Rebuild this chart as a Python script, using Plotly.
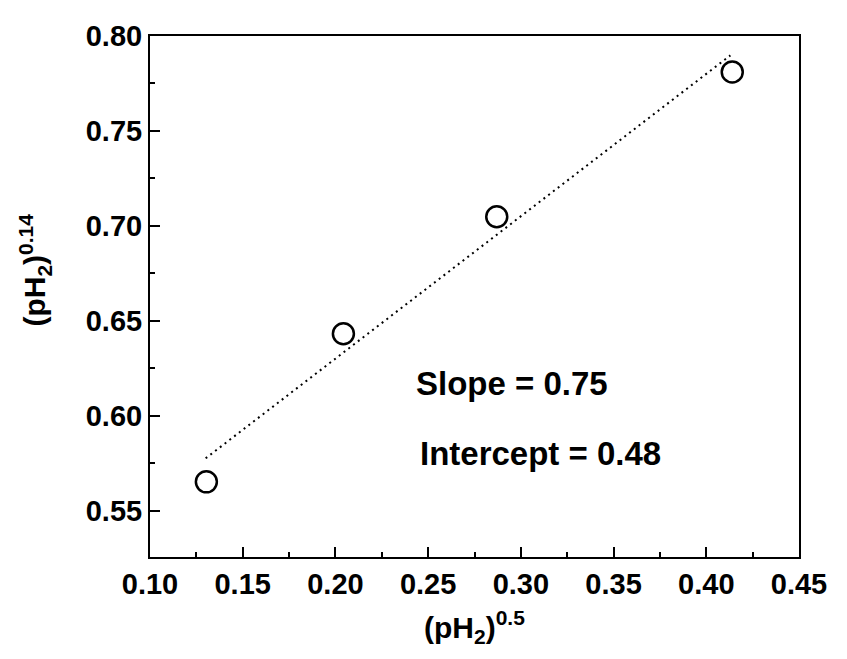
import plotly.graph_objects as go

# Data
x_vals = [0.1304, 0.2043, 0.2870, 0.4140]
y_vals = [0.5651, 0.6431, 0.7048, 0.7810]

fit_x = [0.130, 0.413]
fit_y = [0.5775, 0.7898]

x_ticks = [0.10, 0.15, 0.20, 0.25, 0.30, 0.35, 0.40, 0.45]
y_ticks = [0.55, 0.60, 0.65, 0.70, 0.75, 0.80]

FONT = "Liberation Sans, Arial, sans-serif"

fig = go.Figure()
fig.add_trace(go.Scatter(
    x=fit_x, y=fit_y, mode="lines",
    line=dict(color="black", width=2, dash="2px,4px"),
    showlegend=False, hoverinfo="skip"))
fig.add_trace(go.Scatter(
    x=x_vals, y=y_vals, mode="markers",
    marker=dict(symbol="circle-open", size=21, color="black",
                line=dict(color="black", width=2.5)),
    showlegend=False))

fig.add_annotation(x=0.2951, y=0.6170, xref="x", yref="y",
                   xanchor="center", yanchor="middle",
                   text="<b>Slope = 0.75</b>", showarrow=False,
                   font=dict(family=FONT, size=33, color="black"))
fig.add_annotation(x=0.3105, y=0.5799, xref="x", yref="y",
                   xanchor="center", yanchor="middle",
                   text="<b>Intercept = 0.48</b>", showarrow=False,
                   font=dict(family=FONT, size=33, color="black"))

# axis titles
fig.add_annotation(x=0.5, y=-0.134, xref="paper", yref="paper",
                   xanchor="center", yanchor="middle",
                   text="<b>(pH<sub>2</sub>)<sup>0.5</sup></b>", showarrow=False,
                   font=dict(family=FONT, size=30, color="black"))
fig.add_annotation(x=-0.177, y=0.55, xref="paper", yref="paper",
                   xanchor="center", yanchor="middle",
                   text="<b>(pH<sub>2</sub>)<sup>0.14</sup></b>", showarrow=False,
                   textangle=-90,
                   font=dict(family=FONT, size=30, color="black"))

axis_common = dict(
    showline=True, linecolor="black", linewidth=2, mirror=True,
    ticks="inside", ticklen=10, tickwidth=2, tickcolor="black",
    showgrid=False, zeroline=False,
    tickfont=dict(family=FONT, size=29, color="black"),
    minor=dict(ticks="inside", ticklen=5, tickwidth=1.5, tickcolor="black"),
)

fig.update_xaxes(
    range=[0.10, 0.45], tickvals=x_ticks,
    ticktext=[f"<b>{v:.2f}</b>" for v in x_ticks],
    minor_dtick=0.025, minor_tick0=0.0,
    **axis_common)
fig.update_yaxes(
    range=[0.5255, 0.80], tickvals=y_ticks,
    ticktext=[f"<b>{v:.2f}</b>" for v in y_ticks],
    minor_dtick=0.025, minor_tick0=0.0,
    **axis_common)

# page body has an 8px margin on each side; size the figure so it fits the window
fig.update_layout(
    width=831, height=643,
    margin=dict(l=142, r=29, t=19, b=94),
    paper_bgcolor="white", plot_bgcolor="white",
)

fig.write_html("out.html")
